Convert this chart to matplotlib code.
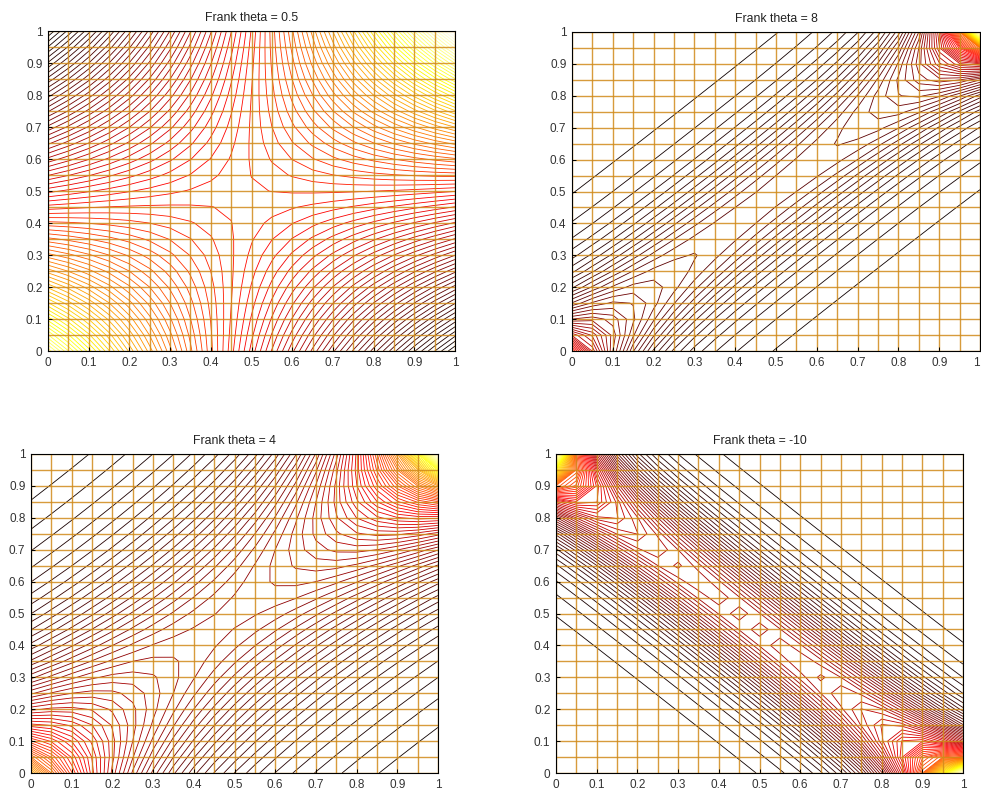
import numpy as np
import matplotlib
matplotlib.use("Agg")
import matplotlib.pyplot as plt
from matplotlib.colors import PowerNorm

W, H = 981, 795
thetas = [0.5, 8, 4, -10]
titles = ["Frank theta = 0.5", "Frank theta = 8", "Frank theta = 4", "Frank theta = -10"]
# axes boxes in pixels: left, right, top, bottom
boxes = [(48, 455, 31, 351), (572, 980, 32, 351), (31, 438, 454, 773), (556, 963, 454, 773)]
major = [0, 0.1, 0.2, 0.3, 0.4, 0.5, 0.6, 0.7, 0.8, 0.9, 1]
major_labels = ["0", "0.1", "0.2", "0.3", "0.4", "0.5", "0.6", "0.7", "0.8", "0.9", "1"]
grid_steps = [0.05, 0.1, 0.15, 0.2, 0.25, 0.3, 0.35, 0.4, 0.45, 0.5, 0.55, 0.6, 0.65, 0.7, 0.75, 0.8, 0.85, 0.9, 0.95]
n_levels = 85
cell_offset = 0.025  # the reference surface is centred on 0.475, half a grid cell off


def frank_density(u, v, t):
    a = np.exp(-t * u)
    b = np.exp(-t * v)
    c = np.exp(-t)
    return t * (1 - c) * a * b / (a * b - a - b + c) ** 2


plt.rcParams["font.family"] = ["Liberation Sans", "DejaVu Sans"]
fig = plt.figure(figsize=(W / 100, H / 100), dpi=100)
u = np.array([0] + grid_steps + [1])
U, V = np.meshgrid(u, u)

for t, title, (l, r, top, b) in zip(thetas, titles, boxes):
    ax = fig.add_axes([l / W, 1 - b / H, (r - l) / W, (b - top) / H])
    Z = frank_density(U + cell_offset, V + cell_offset, t)
    levels = np.linspace(Z.min(), Z.max(), n_levels + 2)[1:-1]
    norm = PowerNorm(gamma=1.15, vmin=Z.min(), vmax=Z.max())
    ax.contour(U, V, Z, levels=levels, cmap="hot", norm=norm, linewidths=0.6)
    ax.set_xlim(0, 1)
    ax.set_ylim(0, 1)
    ax.set_xticks(major, major_labels)
    ax.set_yticks(major, major_labels)
    ax.set_xticks(grid_steps, minor=True)
    ax.set_yticks(grid_steps, minor=True)
    ax.grid(which="both", color="#d08a1a", linewidth=1.0, alpha=0.85)
    ax.set_axisbelow(False)
    ax.tick_params(which="minor", length=0)
    ax.tick_params(which="major", direction="in", length=3, width=0.7, labelsize=8.5,
                   labelcolor="#333333", pad=4)
    if r > W - 5:
        ax.get_xticklabels()[-1].set_ha("right")
    for s in ax.spines.values():
        s.set_linewidth(0.8)
        s.set_zorder(5)
    ax.set_title(title, fontsize=8.8, color="#222222", pad=7)

fig.savefig("out.png", dpi=100)
